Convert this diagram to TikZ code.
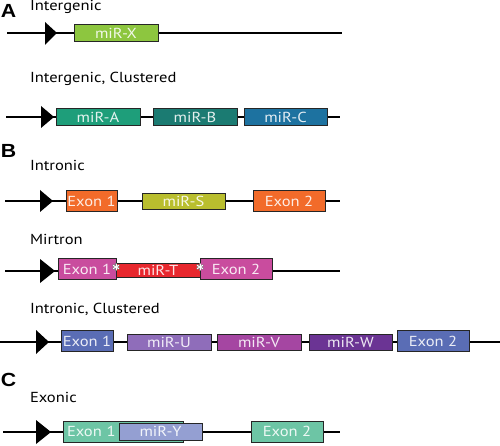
\documentclass[tikz,border=0pt]{standalone}
\usepackage{fontspec}
\setmainfont{PT Sans}[FakeStretch=1.14]
\newfontfamily\panelfont{Liberation Sans}[FakeStretch=1.12]
\usepackage{tikz}
\usetikzlibrary{calc}

\definecolor{mirX}{HTML}{8DC63F}
\definecolor{mirA}{HTML}{1E9E7A}
\definecolor{mirB}{HTML}{1B7B72}
\definecolor{mirC}{HTML}{1D72A0}
\definecolor{exonOr}{HTML}{F26B2A}
\definecolor{mirS}{HTML}{B9BE2E}
\definecolor{exonPk}{HTML}{C94C9E}
\definecolor{mirT}{HTML}{E8282E}
\definecolor{exonBl}{HTML}{5A6DB5}
\definecolor{mirU}{HTML}{8F6DBA}
\definecolor{mirV}{HTML}{A546A2}
\definecolor{mirW}{HTML}{6B3494}
\definecolor{exonMt}{HTML}{6DC5A5}
\definecolor{mirY}{HTML}{949FD2}

\begin{document}
\begin{tikzpicture}[x=1pt, y=-1pt,
    every node/.style = {inner sep=0pt, outer sep=0pt},
    mirbox/.style 2 args = {draw=black!85, line width=0.9pt, anchor=west,
      minimum width=#1, minimum height=16pt, fill=#2, text=#2!12!white,
      font=\fontsize{14.5}{14.5}\selectfont},
    exonbox/.style 2 args = {mirbox={#1}{#2}, minimum height=21pt},
    gene/.style = {line width=1.2pt},
    caption/.style = {anchor=base west, font=\fontsize{14.5}{14.5}\selectfont},
    panel/.style = {anchor=base west, font=\panelfont\bfseries\fontsize{19}{19}\selectfont},
    promoter/.style = {fill=black}]
  \useasboundingbox (0,0) rectangle (500,446);

  % A: intergenic
  \node[panel] (pA) at (1,17.5) {A};
  \node[caption] (tA1) at (30,10.5) {Intergenic};
  \coordinate (a1s) at (7,33);
  \coordinate (a1e) at (342,33);
  \draw[gene] (a1s) -- (a1e);
  \fill[promoter] (45,22) -- (57,33) -- (45,45) -- cycle;
  \node[mirbox={84pt}{mirX}, minimum height=17pt] (mirX) at (74,33) {miR-X};

  \node[caption] (tA2) at (30,82.3) {Intergenic, Clustered};
  \coordinate (a2s) at (6,117);
  \coordinate (a2e) at (340,117);
  \draw[gene] (a2s) -- (a2e);
  \fill[promoter] (41,106) -- (54,117) -- (41,128) -- cycle;
  \node[mirbox={84pt}{mirA}, minimum height=17pt] (mirA) at (56,117) {miR-A};
  \node[mirbox={84pt}{mirB}, minimum height=17pt] (mirB) at (153,117) {miR-B};
  \node[mirbox={83pt}{mirC}, minimum height=17pt] (mirC) at (244,117) {miR-C};

  % B: intronic
  \node[panel] (pB) at (1,158) {B};
  \node[caption] (tB1) at (30,171) {Intronic};
  \coordinate (b1s) at (5,201);
  \coordinate (b1e) at (340,201);
  \draw[gene] (b1s) -- (b1e);
  \fill[promoter] (40,190) -- (53,201) -- (40,212) -- cycle;
  \node[exonbox={51pt}{exonOr}] (exS1) at (66,201) {Exon 1};
  \node[mirbox={83pt}{mirS}] (mirS) at (142,201) {miR-S};
  \node[exonbox={72pt}{exonOr}] (exS2) at (253,201) {Exon 2};

  \node[caption] (tB2) at (30,244) {Mirtron};
  \coordinate (b2s) at (5,271);
  \coordinate (b2e) at (340,271);
  \draw[gene] (b2s) -- (b2e);
  \fill[promoter] (40,259) -- (55,271) -- (40,283) -- cycle;
  \node[mirbox={84pt}{mirT}, minimum height=14pt] (mirT) at (116,270) {miR-T};
  \node[exonbox={58pt}{exonPk}] (exT1) at (58,269) {Exon 1};
  \node[exonbox={72pt}{exonPk}] (exT2) at (200,269) {Exon 2};
  \coordinate (spl1) at ([yshift=2pt]exT1.east);
  \coordinate (spl2) at ([yshift=2pt]exT2.west);
  % splice-site stars
  \foreach \p in {spl1, spl2}
    \foreach \a in {90, 30, -30} {
      \draw[gray, line width=2pt] ($(\p)+(\a:3.8)$) -- ($(\p)+(\a+180:3.8)$);
    }
  \foreach \p in {spl1, spl2}
    \foreach \a in {90, 30, -30} {
      \draw[white, line width=1pt] ($(\p)+(\a:3.3)$) -- ($(\p)+(\a+180:3.3)$);
    }

  \node[caption] (tB3) at (30,313) {Intronic, Clustered};
  \coordinate (b3s) at (0,342);
  \coordinate (b3e) at (500,342);
  \draw[gene] (b3s) -- (b3e);
  \fill[promoter] (36,330) -- (49,342) -- (36,354) -- cycle;
  \node[exonbox={52pt}{exonBl}] (exU1) at (61,341) {Exon 1};
  \node[mirbox={84pt}{mirU}] (mirU) at (127,342) {miR-U};
  \node[mirbox={84pt}{mirV}] (mirV) at (217,342) {miR-V};
  \node[mirbox={83pt}{mirW}] (mirW) at (309,342) {miR-W};
  \node[exonbox={72pt}{exonBl}] (exU2) at (397,341) {Exon 2};

  % C: exonic
  \node[panel] (pC) at (1,386) {C};
  \node[caption] (tC) at (30,402) {Exonic};
  \coordinate (cs) at (3,432);
  \coordinate (ce) at (340,432);
  \draw[gene] (cs) -- (ce);
  \fill[promoter] (36,420) -- (51,432) -- (36,444) -- cycle;
  \node[exonbox={120pt}{exonMt}, inner xsep=4pt, text width=112pt, align=left] (exY1) at (63,431.5) {Exon 1};
  \node[mirbox={83pt}{mirY}, minimum height=17pt] (mirY) at (119,431.5) {miR-Y};
  \node[exonbox={72pt}{exonMt}] (exY2) at (251,431.5) {Exon 2};
\end{tikzpicture}
\end{document}
